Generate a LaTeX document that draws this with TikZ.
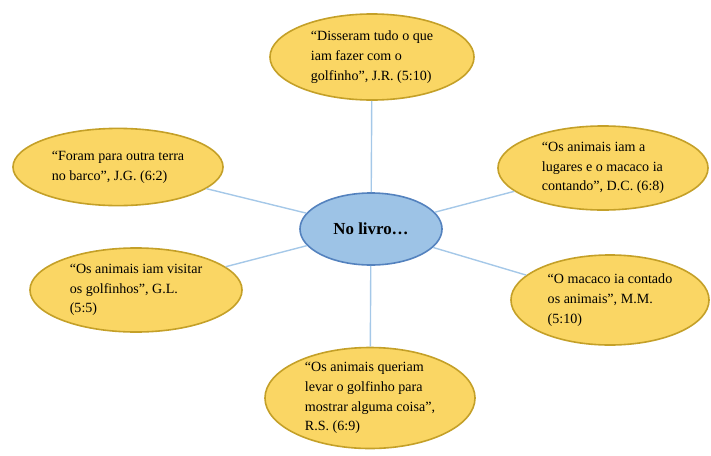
\documentclass[tikz,border=0pt]{standalone}
\usepackage{fontspec}
\setmainfont{Liberation Serif}
\usetikzlibrary{shapes.geometric}
\definecolor{quotefill}{RGB}{250, 214, 100}
\definecolor{quoteline}{RGB}{196, 160, 40}
\definecolor{hubfill}{RGB}{157, 195, 230}
\definecolor{hubline}{RGB}{84, 130, 190}
\definecolor{linkcolor}{RGB}{165, 200, 232}
\tikzstyle{quote} = [ellipse, draw=quoteline, fill=quotefill,
                     line width=0.4mm, inner sep=0pt, align=left,
                     font=\fontsize{10}{14}\selectfont]
\tikzstyle{hub} = [ellipse, draw=hubline, fill=hubfill,
                   line width=0.4mm, inner sep=0pt,
                   font=\fontsize{12}{14}\selectfont\bfseries]
\tikzstyle{link} = [draw=linkcolor, line width=0.35mm]

\begin{document}
\begin{tikzpicture}[x=0.025cm, y=-0.025cm]
        \useasboundingbox (0,0) rectangle (711,455);
        
        \node (Hub) [hub, minimum width=3.55cm, minimum height=1.8cm] at (371,229) {No livro\dots};
        
        \node (Quote1) [quote, minimum width=5.1cm, minimum height=2.15cm] at (372,57)
            {“Disseram tudo o que\\iam fazer com o\\golfinho”, J.R. (5:10)};
        
        \node (Quote2) [quote, minimum width=5.25cm, minimum height=1.93cm] at (118,167)
            {“Foram para outra terra\\no barco”, J.G. (6:2)};
        
        \node (Quote3) [quote, minimum width=5.25cm, minimum height=2.1cm] at (603,168)
            {“Os animais iam a\\lugares e o macaco ia\\contando”, D.C. (6:8)};
        
        \node (Quote4) [quote, minimum width=5.3cm, minimum height=2.1cm] at (136,290)
            {“Os animais iam visitar\\os golfinhos”, G.L.\\(5:5)};
        
        \node (Quote5) [quote, minimum width=4.95cm, minimum height=2.25cm] at (610,300)
            {“O macaco ia contado\\os animais”, M.M.\\(5:10)};
        
        \node (Quote6) [quote, minimum width=5.25cm, minimum height=2.35cm] at (370,398)
            {“Os animais queriam\\levar o golfinho para\\mostrar alguma coisa”,\\R.S. (6:9)};
        
        
        \draw [link] (Hub) -- (Quote1);
        \draw [link] (Hub) -- (Quote2);
        \draw [link] (Hub) -- (Quote3);
        \draw [link] (Hub) -- (Quote4);
        \draw [link] (Hub) -- (Quote5);
        \draw [link] (Hub) -- (Quote6);
        
\end{tikzpicture}
\end{document}
